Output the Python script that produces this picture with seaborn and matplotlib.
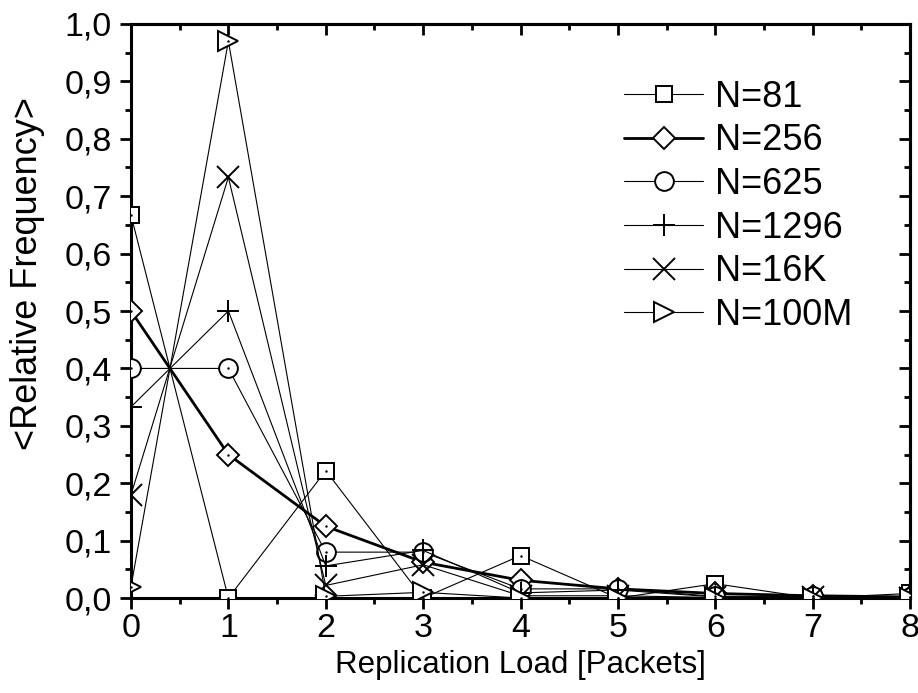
import matplotlib
matplotlib.use('Agg')
import matplotlib.pyplot as plt
import seaborn as sns
import pandas as pd
from matplotlib.ticker import MultipleLocator, FuncFormatter

# valores
carga = [0, 1, 2, 3, 4, 5, 6, 7, 8]
n_81 = [0.667, 0.0, 0.222, 0.0, 0.074, 0.0, 0.025, 0.0, 0.008]
n_256 = [0.5, 0.25, 0.125, 0.0625, 0.031, 0.016, 0.008, 0.004, 0.002]
n_625 = [0.4, 0.4, 0.08, 0.08, 0.016, 0.016, 0.003, 0.003, 0.001]
n_1296 = [0.333, 0.5, 0.056, 0.083, 0.009, 0.014, 0.002, 0.002, 0.0]
n_16k = [0.18, 0.733, 0.022, 0.058, 0.004, 0.004, 0.001, 0.001, 0.0]
n_100m = [0.02, 0.97, 0.003, 0.01, 0.0, 0.0, 0.0, 0.0, 0.0]

series = [
    ('N=81', n_81, 's', 11.5, 0.8),
    ('N=256', n_256, 'D', 11.0, 2.0),
    ('N=625', n_625, 'o', 13.5, 0.8),
    ('N=1296', n_1296, '+', 16.0, 0.8),
    ('N=16K', n_16k, 'x', 16.0, 0.8),
    ('N=100M', n_100m, '>', 14.0, 0.8),
]

sns.set_style('ticks')
plt.rcParams['font.family'] = ['Liberation Sans', 'DejaVu Sans']
for chave in ['text.color', 'axes.labelcolor', 'xtick.color', 'ytick.color', 'axes.edgecolor']:
    plt.rcParams[chave] = 'black'

fig = plt.figure(figsize=(9.18, 6.93), dpi=100)
ax = fig.add_axes([0.1427, 0.137, 0.8486, 0.8284])

for nome, valores, mk, ms, lw in series:
    df = pd.DataFrame({'Carga': carga, 'Freq': valores})
    sns.lineplot(data=df, x='Carga', y='Freq', ax=ax, color='black', lw=lw,
                 marker=mk, ms=ms, mfc='white', mec='black', mew=1.4,
                 label=nome, zorder=3)
    if mk not in ('+', 'x'):
        # pontinho no centro do marcador (estilo Origin)
        ax.plot(carga, valores, ls='none', marker='.', ms=1.5, color='black', zorder=4)

ax.set_xlim(0, 8)
ax.set_ylim(0, 1.0)
ax.xaxis.set_major_locator(MultipleLocator(1))
ax.xaxis.set_minor_locator(MultipleLocator(0.5))
ax.yaxis.set_major_locator(MultipleLocator(0.1))
ax.yaxis.set_minor_locator(MultipleLocator(0.05))
ax.yaxis.set_major_formatter(FuncFormatter(lambda v, p: f'{v:.1f}'.replace('.', ',')))

ax.tick_params(which='major', direction='out', length=8, width=2.0, labelsize=24.5)
ax.tick_params(axis='y', which='major', pad=6)
ax.tick_params(axis='x', which='major', pad=3)
ax.tick_params(which='minor', direction='out', length=4.5, width=2.0)
for s in ax.spines.values():
    s.set_visible(True)
    s.set_linewidth(2.2)

# eixos de cima e da direita com ticks para dentro
topo = ax.secondary_xaxis('top')
topo.xaxis.set_major_locator(MultipleLocator(1))
topo.xaxis.set_minor_locator(MultipleLocator(0.5))
topo.tick_params(which='major', direction='in', length=8, width=2.0, labeltop=False)
topo.tick_params(which='minor', direction='in', length=4.5, width=2.0)
topo.spines['top'].set_linewidth(2.2)
direita = ax.secondary_yaxis('right')
direita.yaxis.set_major_locator(MultipleLocator(0.1))
direita.yaxis.set_minor_locator(MultipleLocator(0.05))
direita.tick_params(which='major', direction='in', length=8, width=2.0, labelright=False)
direita.tick_params(which='minor', direction='in', length=4.5, width=2.0)
direita.spines['right'].set_linewidth(2.2)

ax.set_xlabel('Replication Load [Packets]', fontsize=22.5, labelpad=4)
ax.set_ylabel('<Relative Frequency>', fontsize=26)
ax.yaxis.set_label_coords(-0.11, 0.565)

leg = ax.legend(loc='upper right', bbox_to_anchor=(0.945, 0.928), frameon=False,
                fontsize=26, handlelength=2.2, handletextpad=0.33, labelspacing=0.24,
                borderaxespad=0)

plt.savefig('out.png', dpi=100)
